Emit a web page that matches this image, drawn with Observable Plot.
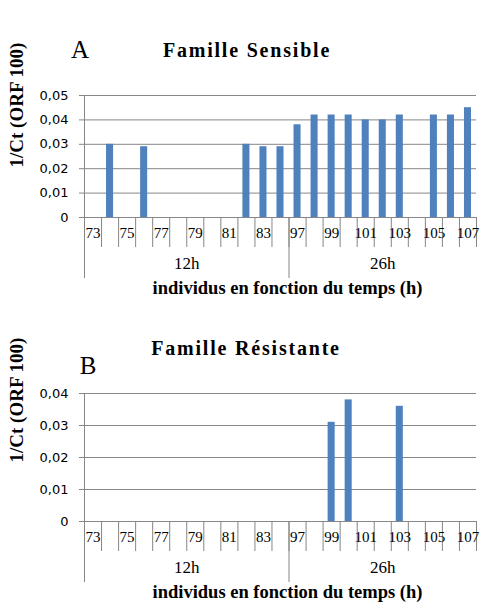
<!DOCTYPE html>
<html>
<head>
<meta charset="utf-8">
<script src="https://cdn.jsdelivr.net/npm/d3@7"></script>
<script src="https://cdn.jsdelivr.net/npm/@observablehq/plot@0.6"></script>
<style>
  html, body { margin: 0; padding: 0; background: #fff; }
  #wrap { position: relative; width: 498px; height: 607px; overflow: hidden; background: #fff; }
  .t { position: absolute; font-family: "Liberation Serif", "Times New Roman", "DejaVu Serif", serif; color: #000; white-space: nowrap; transform: translate(-50%, -50%); }
  .title { font-weight: bold; font-size: 20px; letter-spacing: 1.8px; }
  .letter { font-size: 25px; }
  .panel { position: absolute; left: 0; }
</style>
</head>
<body>
<div id="wrap">
  <div class="t letter" style="left:80px; top:50px;">A</div>
  <div class="t title" style="left:247px; top:50px;">Famille Sensible</div>
  <div class="t title" style="left:246px; top:348px;">Famille Résistante</div>
  <div class="t letter" style="left:88px; top:366px;">B</div>
</div>
<script>
// ---- data ----
const cats12 = [73, 74, 75, 76, 77, 78, 79, 80, 81, 82, 83, 84];
const cats26 = [97, 98, 99, 100, 101, 102, 103, 104, 105, 106, 107];
const categories = [...cats12, ...cats26];
const labelCats = [73, 75, 77, 79, 81, 83, 97, 99, 101, 103, 105, 107];
const groupLabels = ["12h", "26h"];
const groupSizes = [12, 11];
const sensible = [null, 0.030, null, 0.029, null, null, null, null, null, 0.030, 0.029, 0.029,
                  0.038, 0.042, 0.042, 0.042, 0.040, 0.040, 0.042, null, 0.042, 0.042, 0.045];
const resistante = [null, null, null, null, null, null, null, null, null, null, null, null,
                    null, null, 0.031, 0.038, null, null, 0.036, null, null, null, null];
const yTicksA = [0, 0.01, 0.02, 0.03, 0.04, 0.05];
const yTicksB = [0, 0.01, 0.02, 0.03, 0.04];
const yTitle = "1/Ct (ORF 100)";
const xTitle = "individus en fonction du temps (h)";

// ---- helpers ----
const grey = "#868686";
const serif = "'Liberation Serif', 'Times New Roman', 'DejaVu Serif', serif";
const fmt = d => d === 0 ? "0" : d.toFixed(2).replace(".", ",");
const groups = [];
{ let s = 0; groupLabels.forEach((g, k) => { groups.push({label: g, start: s, size: groupSizes[k]}); s += groupSizes[k]; }); }
const boundaries = [0, groupSizes[0]];

function panel(values, yTicks, height, marginTop, marginBottom, yTitleDy) {
  const data = categories.map((id, i) => ({i, id, value: values[i]})).filter(d => d.value != null);
  const labels = categories.map((id, i) => ({i, id})).filter(d => labelCats.includes(d.id));
  return Plot.plot({
    width: 498, height, marginLeft: 84, marginRight: 22, marginTop, marginBottom,
    style: {background: "white", overflow: "visible"},
    x: {type: "linear", domain: [0, categories.length], axis: null},
    y: {domain: [0, yTicks[yTicks.length - 1]], axis: null},
    marks: [
      Plot.gridY(yTicks, {stroke: grey, strokeOpacity: 1}),
      Plot.axisY(yTicks, {tickSize: 5, tickPadding: 11, stroke: grey, tickFormat: fmt,
        fontFamily: "DejaVu Sans", fontSize: 13, fill: "#000", label: null}),
      Plot.ruleX([0], {stroke: grey}),
      Plot.rectY(data, {x1: "i", x2: d => d.i + 1, y: "value", fill: "#4f81bd", insetLeft: 5, insetRight: 5}),
      Plot.axisX(d3.range(categories.length + 1), {tickSize: 30, stroke: grey, fill: "none", label: null}),
      Plot.axisX(boundaries, {tickSize: 61, stroke: grey, fill: "none", label: null}),
      Plot.text(labels, {x: d => d.i + 0.5, text: d => String(d.id), frameAnchor: "bottom", dy: 20,
        fontFamily: serif, fontSize: 15, fill: "#000"}),
      Plot.text(groups, {x: d => d.start + d.size / 2, text: "label", frameAnchor: "bottom", dy: 51,
        fontFamily: serif, fontSize: 17, fill: "#000"}),
      Plot.text([xTitle], {text: d => d, frameAnchor: "bottom", dy: 76, dx: 7,
        fontFamily: serif, fontSize: 18.5, fontWeight: "bold", fill: "#000"}),
      Plot.text([yTitle], {text: d => d, frameAnchor: "left", rotate: -90, dx: -68, dy: yTitleDy,
        fontFamily: serif, fontSize: 19, fontWeight: "bold", fill: "#000"})
    ]
  });
}

const wrap = document.getElementById("wrap");
const pA = panel(sensible, yTicksA, 305, 95, 88, 11);
pA.classList.add("panel"); pA.style.top = "0px";
const pB = panel(resistante, yTicksB, 302, 88, 86, 5);
pB.classList.add("panel"); pB.style.top = "305px";
wrap.insertBefore(pB, wrap.firstChild);
wrap.insertBefore(pA, wrap.firstChild);
</script>
</body>
</html>
